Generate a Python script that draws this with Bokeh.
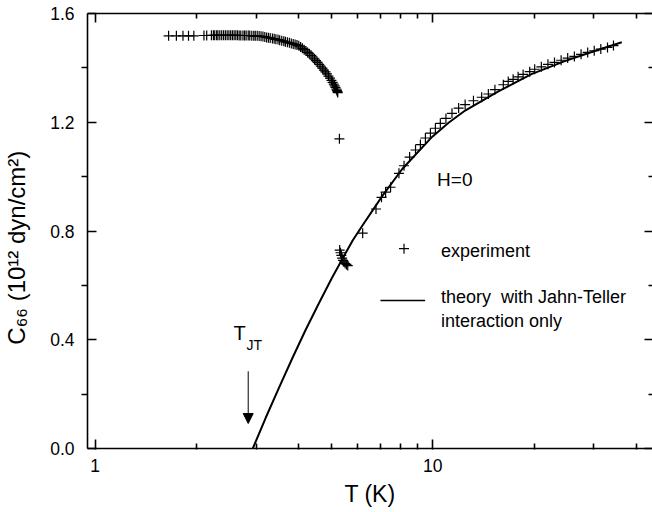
from bokeh.plotting import figure
from bokeh.models import (Range1d, LogAxis, LinearAxis, FixedTicker, Label, Arrow,
                          NormalHead, CustomJSTickFormatter, PrintfTickFormatter)
from bokeh.embed import file_html
from bokeh.resources import INLINE

# ---------------- data ----------------
# experiment, low-temperature branch
exp_low_T = [1.65, 1.74, 1.82, 1.89, 1.96, 2.10, 2.14,
             2.21, 2.24, 2.26, 2.29, 2.31, 2.34, 2.37, 2.40, 2.43, 2.46, 2.49, 2.52, 2.55,
             2.58, 2.61, 2.64, 2.67, 2.70, 2.74, 2.77, 2.80, 2.84, 2.87, 2.91, 2.95, 2.98,
             3.02, 3.06, 3.10, 3.14, 3.18, 3.22, 3.26, 3.30, 3.35, 3.39, 3.43, 3.48, 3.52,
             3.57, 3.62, 3.66, 3.71, 3.76, 3.81, 3.86, 3.91, 3.96, 4.01, 4.06, 4.11, 4.16,
             4.21, 4.26, 4.31, 4.36, 4.41, 4.46, 4.51, 4.56, 4.61, 4.66, 4.71, 4.76, 4.81,
             4.86, 4.91, 4.96, 5.01, 5.05, 5.09, 5.12, 5.15, 5.18, 5.20, 5.22, 5.23]
exp_low_C = [1.518, 1.518, 1.518, 1.518, 1.518, 1.519, 1.519,
             1.520, 1.520, 1.520, 1.520, 1.520, 1.520, 1.520, 1.520, 1.520, 1.520, 1.520, 1.520, 1.520,
             1.520, 1.520, 1.520, 1.519, 1.519, 1.519, 1.519, 1.519, 1.519, 1.519, 1.518, 1.518, 1.518,
             1.518, 1.517, 1.516, 1.515, 1.514, 1.512, 1.511, 1.510, 1.508, 1.507, 1.505, 1.504, 1.502,
             1.500, 1.498, 1.496, 1.494, 1.492, 1.490, 1.488, 1.486, 1.484, 1.481, 1.477, 1.472, 1.467,
             1.462, 1.457, 1.452, 1.446, 1.440, 1.433, 1.427, 1.420, 1.413, 1.406, 1.399, 1.392, 1.385,
             1.378, 1.370, 1.362, 1.354, 1.347, 1.340, 1.334, 1.328, 1.322, 1.317, 1.313, 1.309]

# experiment, transition and high-temperature branch
exp_high_T = [5.29, 5.30, 5.33, 5.36, 5.39, 5.42, 5.46, 5.50, 5.55, 5.60,
              6.20, 6.79, 7.05, 7.25, 7.50, 7.94, 8.22, 8.54, 8.89, 9.19, 9.51, 9.84,
              10.18, 10.53, 10.94, 11.40, 11.93, 12.47, 13.20, 13.96, 14.61, 15.28, 16.18,
              16.73, 17.30, 17.90, 18.52, 19.37, 20.04, 20.97, 21.94, 22.94, 24.00, 25.10,
              26.27, 27.50, 28.77, 30.08, 31.46, 32.93, 34.30]
exp_high_C = [1.139, 0.730, 0.720, 0.710, 0.700, 0.692, 0.686, 0.681, 0.677, 0.673,
              0.792, 0.881, 0.924, 0.943, 0.961, 1.012, 1.040, 1.072, 1.098, 1.118, 1.142, 1.160,
              1.178, 1.196, 1.214, 1.233, 1.252, 1.265, 1.279, 1.292, 1.304, 1.320, 1.338,
              1.350, 1.358, 1.367, 1.376, 1.386, 1.395, 1.404, 1.413, 1.420, 1.428, 1.436,
              1.442, 1.450, 1.457, 1.463, 1.469, 1.475, 1.482]

# theory with Jahn-Teller interaction only
theory_T = [2.93, 3.20, 3.51, 3.84, 4.20, 4.60, 5.03, 5.51, 5.79, 6.19, 7.10, 8.12,
            9.95, 11.14, 12.47, 15.6, 19.6, 24.5, 30.8, 36.3]
theory_C = [0.000, 0.113, 0.226, 0.333, 0.436, 0.534, 0.628, 0.717, 0.765, 0.820, 0.930, 1.028,
            1.146, 1.198, 1.243, 1.313, 1.377, 1.424, 1.466, 1.494]

x_major = [1, 10, 100]
x_minor = [2, 3, 4, 5, 6, 7, 8, 9, 20, 30, 40, 50, 60, 70, 80, 90]
y_major = [0.0, 0.4, 0.8, 1.2, 1.6]
y_minor = [0.2, 0.6, 1.0, 1.4]

FONT = "Liberation Sans"

# ---------------- figure ----------------
p = figure(width=652, height=512, x_axis_type="log",
           x_range=Range1d(0.949, 44.76), y_range=Range1d(0, 1.6),
           output_backend="svg", toolbar_location=None,
           min_border_left=83, min_border_top=13, min_border_right=0, min_border_bottom=64)
p.grid.visible = False
p.outline_line_color = None
p.background_fill_color = "white"
p.border_fill_color = "white"

xt = FixedTicker(ticks=x_major, minor_ticks=x_minor)
yt = FixedTicker(ticks=y_major, minor_ticks=y_minor)
empty = CustomJSTickFormatter(code="return ''")

xa = p.xaxis[0]
xa.ticker = xt
xa.formatter = CustomJSTickFormatter(code="return String(tick)")
xa.axis_label = "T (K)"
ya = p.yaxis[0]
ya.ticker = yt
ya.formatter = PrintfTickFormatter(format="%.1f")
# trailing no-break spaces shift the rotated title down, as in the original
ya.axis_label = "C\u2086\u2086 (10\u00b9\u00b2 dyn/cm\u00b2)" + "\u00a0" * 5

for ax in (xa, ya):
    ax.axis_line_width = 1.6
    ax.major_tick_line_width = 1.6
    ax.minor_tick_line_width = 1.6
    ax.axis_line_color = "black"
    ax.major_tick_line_color = "black"
    ax.minor_tick_line_color = "black"
    ax.major_label_text_font = FONT
    ax.major_label_text_font_size = "17.5px"
    ax.major_label_text_color = "black"
    ax.axis_label_text_font = FONT
    ax.axis_label_text_font_style = "normal"
    ax.axis_label_text_color = "black"

xa.axis_label_text_font_size = "23px"
ya.axis_label_text_font_size = "24px"

xa.major_tick_in = 9
xa.major_tick_out = 1
xa.minor_tick_in = 5
xa.minor_tick_out = 1
xa.major_label_standoff = 9
xa.axis_label_standoff = 6

ya.major_tick_in = 9
ya.major_tick_out = 0
ya.minor_tick_in = 0
ya.minor_tick_out = 6
ya.major_label_standoff = 7
ya.axis_label_standoff = 17

top = LogAxis(ticker=xt, formatter=empty, major_label_standoff=0,
              major_label_text_font_size="0px",
              major_tick_in=9, major_tick_out=0, minor_tick_in=5, minor_tick_out=0,
              axis_line_width=1.6, major_tick_line_width=1.6, minor_tick_line_width=1.6)
p.add_layout(top, "above")
right = LinearAxis(ticker=yt, formatter=empty, major_label_standoff=0,
                   major_label_text_font_size="0px",
                   major_tick_in=8, major_tick_out=0, minor_tick_in=4, minor_tick_out=0,
                   axis_line_color=None, major_tick_line_width=1.6, minor_tick_line_width=1.6)
p.add_layout(right, "right")

# ---------------- glyphs ----------------
p.line(theory_T, theory_C, line_color="black", line_width=2)
p.scatter(exp_low_T, exp_low_C, marker="cross", size=10, line_color="black", line_width=1.2)
p.scatter(exp_high_T, exp_high_C, marker="cross", size=10, line_color="black", line_width=1.2)

# ---------------- annotations ----------------
def lab(x, y, text, size):
    p.add_layout(Label(x=x, y=y, text=text, text_font=FONT, text_font_size=size,
                       text_color="black", text_baseline="middle", text_align="left"))

lab(10.3, 0.991, "H=0", "19px")
# legend
p.scatter([8.22], [0.735], marker="cross", size=10, line_color="black", line_width=1.2)
lab(10.58, 0.728, "experiment", "18px")
p.line([7.0, 9.49], [0.544, 0.544], line_color="black", line_width=1.5)
lab(10.58, 0.556, "theory\u00a0 with Jahn-Teller", "18px")
lab(10.58, 0.470, "interaction only", "18px")
# T_JT marker
lab(2.57, 0.4265, "T", "20px")
lab(2.806, 0.379, "JT", "14px")
p.add_layout(Arrow(end=NormalHead(size=10, fill_color="black", line_color="black"),
                   x_start=2.84, y_start=0.284, x_end=2.84, y_end=0.092,
                   line_color="black", line_width=1))

open("out.html", "w").write(file_html(p, INLINE))
